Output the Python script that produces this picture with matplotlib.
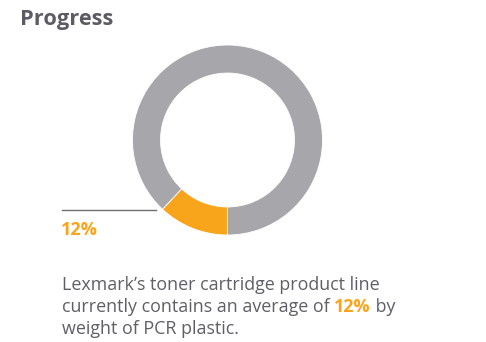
import matplotlib.pyplot as plt

# data
labels = ["PCR plastic", "Other"]
shares = [12, 88]
colors = ["#F9A51B", "#A7A6AA"]
title = "Progress"
pct_label = "12%"
body_pre = ["Lexmark\u2019s toner cartridge product line",
            "currently contains an average of "]
body_hi = "12%"
body_post = [" by", "weight of PCR plastic."]

W, H = 486, 342
fig = plt.figure(figsize=(W / 100, H / 100), dpi=100)
fig.patch.set_facecolor("white")

# donut
cx, cy, r = 227.5, 140, 95
ax = fig.add_axes([(cx - r) / W, (H - cy - r) / H, 2 * r / W, 2 * r / H])
ax.pie(shares, colors=colors, startangle=270, counterclock=False,
       wedgeprops=dict(width=0.295, edgecolor="white", linewidth=0.6))
ax.set_xlim(-1, 1)
ax.set_ylim(-1, 1)
ax.set_aspect("equal")
ax.axis("off")

def fx(x):
    return x / W

def fy(y):
    return 1 - y / H

fig.canvas.draw()
rend = fig.canvas.get_renderer()

def fit(t, width):
    # scale font size so the text spans the width
    w = t.get_window_extent(rend).width
    t.set_fontsize(t.get_fontsize() * width / w)

fam = "Open Sans"
tt = fig.text(fx(20), fy(19), title, fontsize=14.5, fontweight="bold",
              color="#5B5B63", family=fam, va="center", ha="left")
fit(tt, 93)

# leader line and percent label
fig.add_artist(plt.Line2D([fx(62), fx(156)], [fy(210), fy(210)],
                          color="#6E6E74", lw=1))
fig.text(fx(61), fy(230), pct_label, fontsize=13, fontweight="bold",
         color=colors[0], family=fam, va="center", ha="left")

# body text
txt = dict(fontsize=11.5, color="#5F5F66", family=fam, va="center", ha="left")
t0 = fig.text(fx(62), fy(285), body_pre[0], **txt)
fit(t0, 318)
txt["fontsize"] = t0.get_fontsize()
t1 = fig.text(fx(62), fy(307), body_pre[1], **txt)
x2 = t1.get_window_extent(rend).x1
t2 = fig.text(x2 / W, fy(307), body_hi, fontsize=txt["fontsize"], fontweight="bold",
              color=colors[0], family=fam, va="center", ha="left")
x3 = t2.get_window_extent(rend).x1
fig.text(x3 / W, fy(307), body_post[0], **txt)
fig.text(fx(62), fy(329), body_post[1], **txt)

fig.savefig("out.png", dpi=100)
